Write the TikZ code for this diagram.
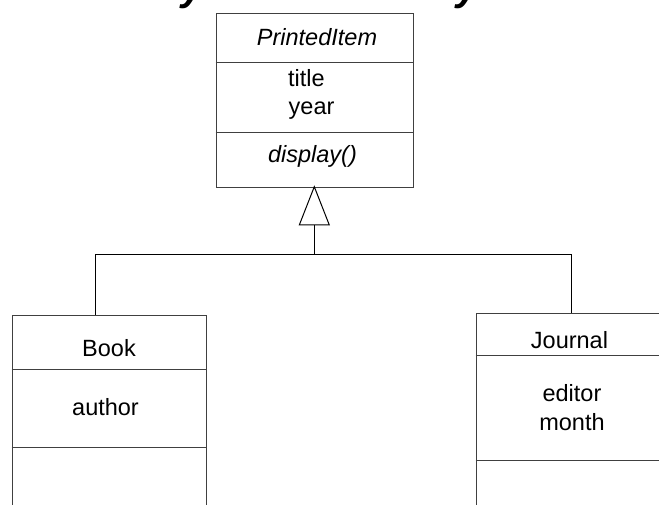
\documentclass[tikz,border=0pt]{standalone}
\usepackage{fontspec}
\setmainfont{Liberation Sans}
\begin{document}
\begin{tikzpicture}[x=1pt,y=-1pt,
  box/.style={draw=black!75, line width=1pt, inner sep=0pt, anchor=north west, fill=none},
  div/.style={draw=black!75, line width=1pt},
  conn/.style={draw=black, line width=1pt},
  lbl/.style={font=\fontsize{23.5}{28}\selectfont, inner sep=0pt, anchor=base},
  lbll/.style={font=\fontsize{23.5}{28}\selectfont, inner sep=0pt, anchor=base west},
  ttl/.style={font=\fontsize{40}{40}\selectfont\bfseries\itshape, inner sep=0pt, anchor=base west}]
\useasboundingbox (0,0) rectangle (659,505);
\clip (0,0) rectangle (659,505);
% partial title glyphs
\node[ttl] (t1) at (181,0.5) {y};
\node[ttl] (t2) at (456,0.5) {y};
% PrintedItem
\node[box, minimum width=197pt, minimum height=173.4pt] (pi) at (215.7,13.3) {};
\draw[div] (pi.west |- 0,62.3) -- (pi.east |- 0,62.3);
\draw[div] (pi.west |- 0,132.7) -- (pi.east |- 0,132.7);
\node[lbl] (piname) at (317,46) {\itshape PrintedItem};
\node[lbll] (a1) at (288,86.7) {title};
\node[lbll] (a2) at (288.5,115) {year};
\node[lbl] (m1) at (312.5,162.7) {\itshape display()};
% Book
\node[box, minimum width=194.3pt, minimum height=230pt] (book) at (11.7,315) {};
\draw[div] (book.west |- 0,369.7) -- (book.east |- 0,369.7);
\draw[div] (book.west |- 0,447.7) -- (book.east |- 0,447.7);
\node[lbl] (bname) at (109,356) {Book};
\node[lbl] (b1) at (105.5,415) {author};
% Journal
\node[box, minimum width=250pt, minimum height=230pt] (jr) at (475.7,312.7) {};
\draw[div] (jr.west |- 0,355.7) -- (jr.east |- 0,355.7);
\draw[div] (jr.west |- 0,460.3) -- (jr.east |- 0,460.3);
\node[lbl] (jname) at (569.5,348.3) {Journal};
\node[lbl] (j1) at (572,401.7) {editor};
\node[lbl] (j2) at (572,430.7) {month};
% generalization
\coordinate (apex) at (314.3,186.7);
\coordinate (tl) at (299.3,225);
\coordinate (tr) at (329.3,225);
\coordinate (tb) at (314.3,225);
\coordinate (bus) at (314.3,255);
\coordinate (bk) at (95.3,255);
\coordinate (jk) at (571.7,255);
\draw[conn, line join=miter] (apex) -- (tl) -- (tr) -- cycle;
\draw[conn] (tb) -- (bus);
\draw[conn] (bk) -- (jk);
\draw[conn] (bk) -- (bk |- book.north);
\draw[conn] (jk) -- (jk |- jr.north);
\end{tikzpicture}
\end{document}
